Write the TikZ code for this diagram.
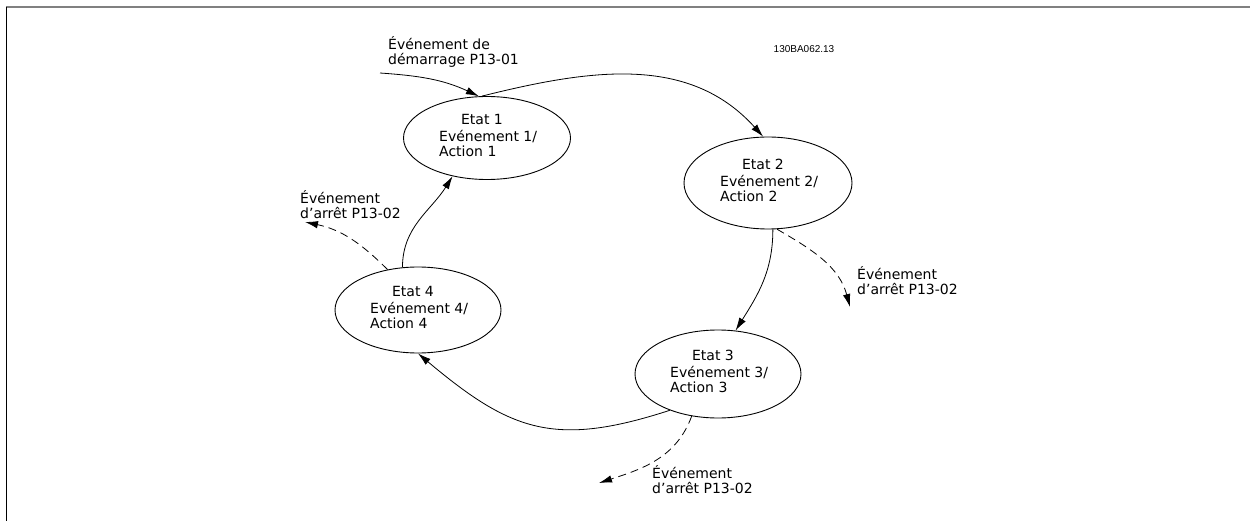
\documentclass[tikz,border=0pt]{standalone}
\usepackage{fontspec}
\setmainfont{DejaVu Sans}
\newfontfamily\codefont{Liberation Sans}
\usetikzlibrary{shapes.geometric,arrows.meta,calc}
\begin{document}
\begin{tikzpicture}[x=1pt,y=1pt,
  state/.style={ellipse,draw,line width=0.9pt,inner sep=0pt},
  lbl/.style={font=\fontsize{14}{15}\selectfont,inner sep=0pt,align=left},
  flow/.style={line width=0.8pt,-{Latex[length=13pt,width=7.5pt]}},
  stopflow/.style={flow,dash pattern=on 8pt off 5pt}]
\useasboundingbox (0,0) rectangle (1250,-521);
% frame
\draw[line width=2pt,gray] (6,-7.5) -- (1250,-7.5);
\draw[line width=1.5pt] (6.5,-7) -- (6.5,-521);
% states
\node[state,minimum width=167pt,minimum height=83pt] (e1) at (487,-138) {};
\node[state,minimum width=168pt,minimum height=92pt] (e2) at (768,-183) {};
\node[state,minimum width=166pt,minimum height=88pt] (e3) at (718,-374) {};
\node[state,minimum width=166pt,minimum height=86pt] (e4) at (418,-310) {};
\foreach \n/\k in {e1/1,e2/2,e3/3,e4/4}{
  \node[lbl] (t\k) at ($(\n)+(-5,19)$) {Etat \k};
  \node[lbl,anchor=west] (b\k) at ($(\n)+(-48,-5.5)$) {Evénement \k/\\Action \k};
}
% labels
\node[lbl,anchor=west] (start) at (388,-52) {Événement de\\démarrage P13-01};
\node[lbl,anchor=west] (s4) at (300,-204.5) {Événement\\d'arrêt P13-02};
\node[lbl,anchor=west] (s2) at (857,-281) {Événement\\d'arrêt P13-02};
\node[lbl,anchor=west] (s3) at (652,-479.5) {Événement\\d'arrêt P13-02};
\node[font=\codefont\fontsize{10}{11}\selectfont,inner sep=0pt] (code) at (804,-49) {130BA062.13};
% free ends
\coordinate (in0) at (380,-73);
\coordinate (o4) at (305,-222);
\coordinate (o2) at (850,-307);
\coordinate (o3) at (599,-483);
% connectors
\draw[flow] (in0) to[out=-4,in=155] (e1.101);
\draw[flow] (e1.97) to[out=14,in=132] (e2.96);
\draw[flow] (e2.-84) to[out=-90,in=58] (e3.68);
\draw[flow] (e3.217) to[out=198,in=-40,looseness=1.2] (e4.-90);
\draw[flow] (e4.110) to[out=90,in=238] (e1.228);
\draw[stopflow] (e4.127) to[out=135,in=-12] (o4);
\draw[stopflow] (e2.-79) to[out=-30,in=105] (o2);
\draw[stopflow] (e3.238) to[out=-110,in=18] (o3);
\end{tikzpicture}
\end{document}
